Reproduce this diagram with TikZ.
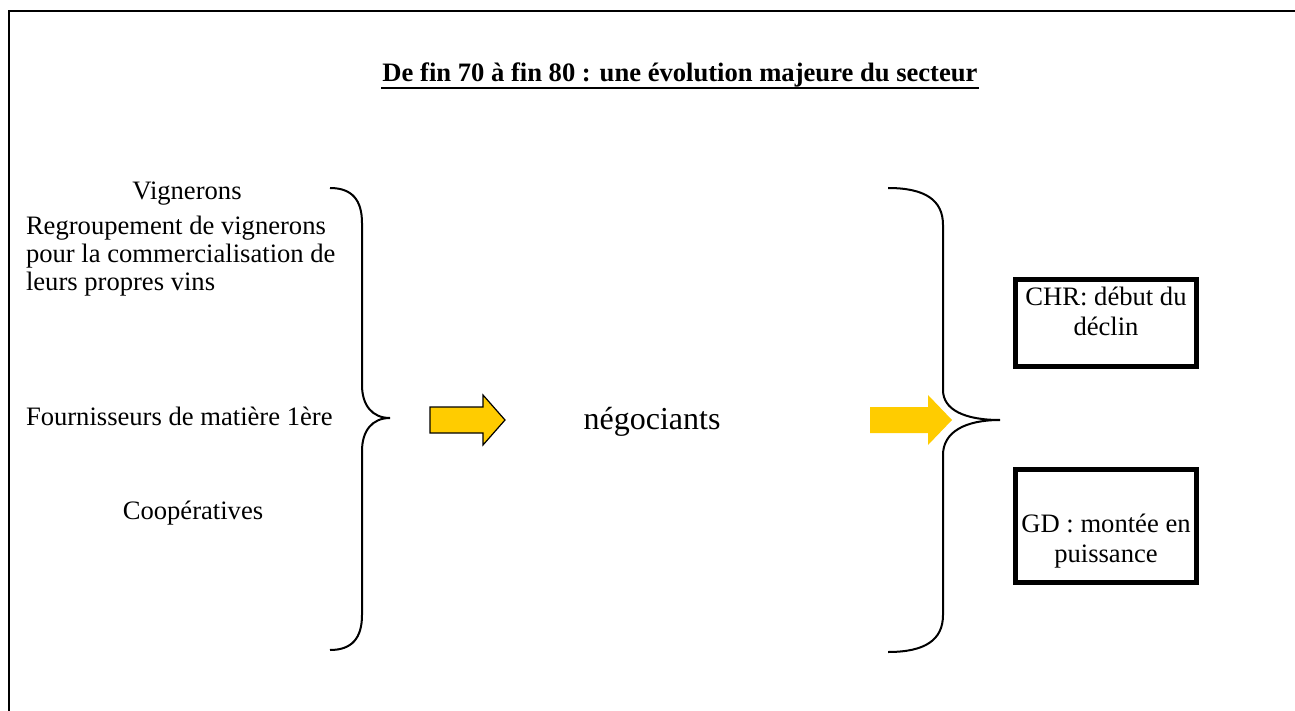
\documentclass[tikz,border=0pt]{standalone}
\usepackage{fontspec}
\setmainfont{Liberation Serif}
\usetikzlibrary{positioning, calc}
\definecolor{cyellow}{HTML}{FFCC00}
\tikzset{
  every picture/.style={line width=1pt},
  txt/.style={font=\fontsize{13.3}{14}\selectfont, inner sep=0pt},
  boxtxt/.style={font=\fontsize{13.3}{15}\selectfont, inner sep=0pt, align=center, anchor=north},
  box/.style={draw, line width=2.5pt, minimum width=90.5pt, inner sep=0pt},
  brace/.style={line width=1pt},
  fatarrow/.style={fill=cyellow, line width=0.6pt},
}

\begin{document}
\begin{tikzpicture}[x=0.5pt, y=-0.5pt]
  \useasboundingbox (0,0) rectangle (1295,711);
  \draw (9,711) -- (9,11) -- (1295,11);
  % title
  \node[txt, font=\bfseries\fontsize{13.3}{14}\selectfont, anchor=base] (title) at (680,82) {De fin 70 à fin 80 : une évolution majeure du secteur};
  \draw ($(title.base west)+(0,6)$) -- ($(title.base east)+(0,6)$);
  % left column
  \node[txt, anchor=base] (vign) at (187,200) {Vignerons};
  \node[txt, align=left, anchor=north west] (regroup) at (25,215) {Regroupement de vignerons\\pour la commercialisation de\\leurs propres vins};
  \node[txt, anchor=base west] (fourn) at (25,425) {Fournisseurs de matière 1ère};
  \node[txt, anchor=base] (coop) at (193,519) {Coopératives};
  \draw[brace] (330,188) .. controls (352,188) and (362,200) .. (362,223) -- (362,385)
    .. controls (362,405) and (372,418) .. (390,418) .. controls (372,418) and (362,431) .. (362,451)
    -- (362,615) .. controls (362,638) and (352,650) .. (330,650);
  % arrows and centre
  \filldraw[fatarrow] (430,407) -- (483,407) -- (483,395) -- (505,420) -- (483,445) -- (483,433) -- (430,433) -- cycle;
  \node[txt, font=\fontsize{16}{18}\selectfont, anchor=base] (nego) at (652,429) {négociants};
  \fill[cyellow] (870,407) -- (928,407) -- (928,395) -- (952,420) -- (928,445) -- (928,433) -- (870,433) -- cycle;
  \draw[brace] (888,188) .. controls (925,188) and (943,200) .. (943,225) -- (943,390)
    .. controls (943,410) and (965,420) .. (1000,420) .. controls (965,420) and (943,432) .. (943,455)
    -- (943,615) .. controls (943,640) and (925,652) .. (888,652);
  % right boxes
  \node[box, minimum height=43.5pt] (chr) at (1106,323) {};
  \node[boxtxt] (chrtxt) at (1106,286) {CHR: début du\\déclin};
  \node[box, minimum height=56.5pt] (gd) at (1106,526) {};
  \node[boxtxt] (gdtxt) at (1106,513) {GD : montée en\\puissance};
\end{tikzpicture}
\end{document}
